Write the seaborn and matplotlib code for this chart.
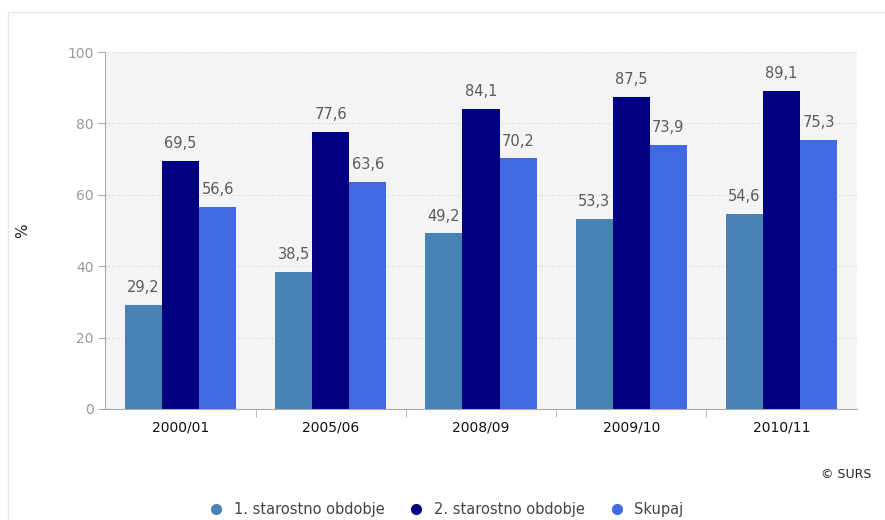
import pandas as pd
import seaborn as sns
import matplotlib.pyplot as plt
from matplotlib.lines import Line2D
from matplotlib.patches import Rectangle

leta = ["2000/01", "2005/06", "2008/09", "2009/10", "2010/11"]
skupine = ["1. starostno obdobje", "2. starostno obdobje", "Skupaj"]
prvo = [29.2, 38.5, 49.2, 53.3, 54.6]
drugo = [69.5, 77.6, 84.1, 87.5, 89.1]
skupaj = [56.6, 63.6, 70.2, 73.9, 75.3]
barve = ["#4682b4", "#000080", "#4169e1"]

df = pd.DataFrame({
    "leto": leta * 3,
    "skupina": [skupine[0]] * 5 + [skupine[1]] * 5 + [skupine[2]] * 5,
    "vrednost": prvo + drugo + skupaj,
})

sns.set_style("white")
plt.rcParams["font.family"] = ["DejaVu Sans"]

fig = plt.figure(figsize=(8.85, 5.2), dpi=100)
ax = fig.add_axes([0.119, 0.2135, 0.849, 0.6865])
ax.set_facecolor("#f4f4f4")

sns.barplot(data=df, x="leto", y="vrednost", hue="skupina", palette=barve,
            width=0.74, saturation=1, ax=ax, legend=False, edgecolor="none")

for cont in ax.containers:
    ax.bar_label(cont, labels=[f"{v:.1f}".replace(".", ",") for v in cont.datavalues],
                 padding=7, color="#5a5a5a", fontsize=10.5)

ax.set_ylim(0, 100)
ax.set_xlim(-0.5, 4.5)
ax.set_yticks([0, 20, 40, 60, 80, 100])
ax.yaxis.grid(True, color="#cfcfcf", linestyle=(0, (1, 2)), linewidth=0.8)
ax.set_axisbelow(True)
ax.set_xlabel("")
ax.set_ylabel("%", fontsize=11, color="#222222")
ax.yaxis.set_label_coords(-0.1, 0.5)

for s in ["top", "right"]:
    ax.spines[s].set_visible(False)
ax.spines["left"].set_color("#aaaaaa")
ax.spines["bottom"].set_color("#aaaaaa")

ax.tick_params(axis="y", colors="#aaaaaa", labelcolor="#999999", labelsize=10,
               length=5, left=True)
ax.tick_params(axis="x", which="major", length=0, labelsize=10,
               labelcolor="#111111", pad=8)
ax.set_xticks([0.5, 1.5, 2.5, 3.5], minor=True)
ax.tick_params(axis="x", which="minor", length=6, color="#aaaaaa", bottom=True)

fig.patches.append(Rectangle((0.009, -0.1), 1.1, 1.077, transform=fig.transFigure,
                             fill=False, edgecolor="#e6e6e6", linewidth=1))

fig.text(0.985, 0.088, "© SURS", ha="right", va="center", fontsize=9, color="#222222")

handles = [Line2D([], [], marker="o", linestyle="none", markersize=8,
                  markerfacecolor=c, markeredgecolor="none") for c in barve]
fig.legend(handles, skupine, loc="center", bbox_to_anchor=(0.5, 0.02), ncol=3,
           frameon=False, fontsize=10.5, handletextpad=0.2, columnspacing=1.2,
           labelcolor="#444444")

fig.savefig("out.png", dpi=100)
